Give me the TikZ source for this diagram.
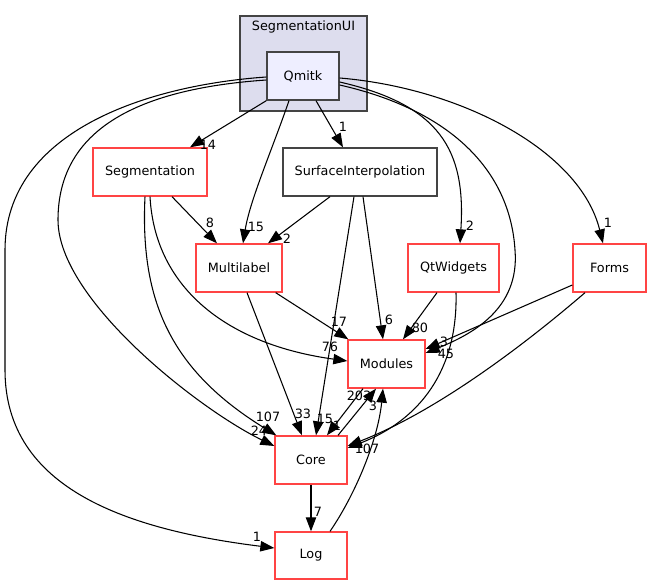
\documentclass[tikz,border=0pt]{standalone}
\usepackage{fontspec}
\setmainfont{DejaVu Sans}
\usetikzlibrary{arrows.meta,calc}
\definecolor{redb}{HTML}{FF4444}
\definecolor{grayb}{HTML}{444444}
\definecolor{clfill}{HTML}{DDDDEE}
\definecolor{qfill}{HTML}{EEEEFF}
\begin{document}
\begin{tikzpicture}[x=0.75pt,y=-0.75pt,
  font=\fontsize{9.6}{11}\selectfont,
  dirbox/.style={draw=redb, line width=1pt, fill=white, inner sep=0pt, minimum height=36pt},
  plainbox/.style={draw=grayb, line width=1pt, fill=white, inner sep=0pt, minimum height=36pt},
  dep/.style={line width=0.8pt, -{Triangle[length=10.5pt,width=7.8pt]}},
  lbl/.style={inner sep=0pt}]
\useasboundingbox (0,0) rectangle (651,585);

% cluster
\draw[draw=grayb, line width=1pt, fill=clfill] (240,16) rectangle (367,111);
\node[lbl] (cl) at (303.5,27) {SegmentationUI};

% nodes
\node[plainbox, fill=qfill, minimum width=54pt] (Qmitk) at (303,76) {Qmitk};
\node[dirbox, minimum width=85.5pt] (Seg) at (150,172) {Segmentation};
\node[plainbox, minimum width=115.5pt] (SI) at (360,172) {SurfaceInterpolation};
\node[dirbox, minimum width=64.5pt] (ML) at (239,268) {Multilabel};
\node[dirbox, minimum width=68.25pt] (QW) at (453.5,268) {QtWidgets};
\node[dirbox, minimum width=54.75pt] (Forms) at (609.5,268) {Forms};
\node[dirbox, minimum width=57.75pt] (Mod) at (386.5,364) {Modules};
\node[dirbox, minimum width=54pt] (Core) at (311,460) {Core};
\node[dirbox, minimum width=54pt, minimum height=35.25pt] (Log) at (311,555.5) {Log};

% edges from Qmitk
\draw[dep] (Qmitk.south west) -- ($(Seg.north)+(40,0)$);
\draw[dep] ($(Qmitk.south)+(-14,0)$) .. controls (272,150) and (250,200) .. ($(ML.north)+(4,0)$);
\draw[dep] ($(Qmitk.south)+(13,0)$) -- ($(SI.north)+(-17,0)$);
\draw[dep] ($(Qmitk.east)+(0,6)$) .. controls (440,105) and (466,150) .. ($(QW.north)+(6.5,0)$);
\draw[dep] ($(Qmitk.east)+(0,9)$) .. controls (450,110) and (510,170) .. (515,250)
   .. controls (520,310) and (470,335) .. ($(Mod.east)+(0,-11)$);
\draw[dep] ($(Qmitk.east)+(0,2)$) .. controls (460,88) and (580,150) .. ($(Forms.north)+(-6.5,0)$);
\draw[dep] ($(Qmitk.west)+(0,4)$) .. controls (120,90) and (58,140) .. (58,220)
   .. controls (58,300) and (200,410) .. ($(Core.west)+(0,-14)$);
\draw[dep] ($(Qmitk.west)+(0,1)$) .. controls (150,85) and (5,130) .. (5,250)
   -- (5,370) .. controls (5,490) and (130,530) .. ($(Log.west)+(0,-7.5)$);

% Segmentation
\draw[dep] ($(Seg.south)+(22,0)$) -- ($(ML.north)+(-22,0)$);
\draw[dep] (Seg.south) .. controls (155,290) and (230,345) .. ($(Mod.west)+(0,-3)$);
\draw[dep] ($(Seg.south)+(-5,0)$) .. controls (140,300) and (170,370) .. ($(Core.north west)+(2,0)$);

% SurfaceInterpolation
\draw[dep] ($(SI.south)+(-30,0)$) -- ($(ML.north)+(29,0)$);
\draw[dep] ($(SI.south)+(-6,0)$) -- ($(Core.north)+(5,0)$);
\draw[dep] ($(SI.south)+(3,0)$) -- ($(Mod.north)+(-3.5,0)$);

% Multilabel
\draw[dep] ($(ML.south east)+(-7,0)$) -- ($(Mod.north west)+(1,0)$);
\draw[dep] ($(ML.south)+(8,0)$) -- ($(Core.north)+(-9,0)$);

% QtWidgets
\draw[dep] ($(QW.south)+(-16.5,0)$) -- ($(Mod.north)+(16.5,0)$);
\draw[dep] ($(QW.south)+(2.5,0)$) .. controls (458,370) and (420,420) .. ($(Core.east)+(0,-12)$);

% Forms
\draw[dep] ($(Forms.west)+(0,17)$) -- ($(Mod.east)+(0,-15)$);
\draw[dep] ($(Forms.south)+(-24.5,0)$) .. controls (530,340) and (440,410) .. ($(Core.east)+(0,-14)$);

% Modules / Core / Log
\draw[dep] ($(Mod.south)+(-23.5,0)$) -- ($(Core.north)+(16,0)$);
\draw[dep] ($(Core.north)+(27,0)$) -- ($(Mod.south)+(-10.5,0)$);
\draw[dep] ($(Log.north)+(19,0)$) .. controls (355,495) and (378,440) .. ($(Mod.south)+(-3.5,0)$);
\draw[dep] (Core.south) -- (Log.north);

% labels
\node[lbl] (t1) at (208,145) {14};
\node[lbl] (t2) at (343,127) {1};
\node[lbl] (t3) at (256,227) {15};
\node[lbl] (t4) at (210,223) {8};
\node[lbl] (t5) at (287,239) {2};
\node[lbl] (t6) at (470,226) {2};
\node[lbl] (t7) at (608,223) {1};
\node[lbl] (t8) at (339,322) {17};
\node[lbl] (t9) at (330,347) {76};
\node[lbl] (t10) at (389,320) {6};
\node[lbl] (t11) at (420,328) {80};
\node[lbl] (t12) at (444,342) {3};
\node[lbl] (t13) at (446,354) {45};
\node[lbl] (t14) at (359,396) {203};
\node[lbl] (t15) at (373,406) {3};
\node[lbl] (t16) at (268,417) {107};
\node[lbl] (t17) at (259,431) {24};
\node[lbl] (t18) at (303,414) {33};
\node[lbl] (t19) at (325,419) {15};
\node[lbl] (t20) at (337,426) {1};
\node[lbl] (t21) at (367,449) {107};
\node[lbl] (t22) at (318,512) {7};
\node[lbl] (t23) at (257,537) {1};
\end{tikzpicture}
\end{document}
